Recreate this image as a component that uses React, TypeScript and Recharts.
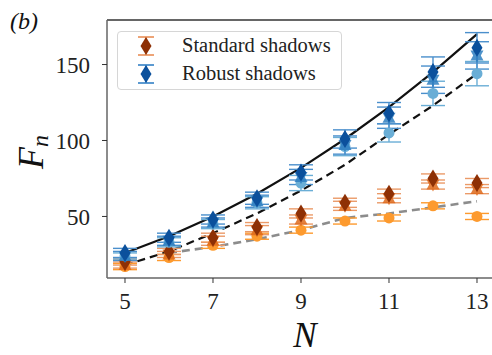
import React from "react";
import {
  ComposedChart,
  Line,
  Scatter,
  XAxis,
  YAxis,
  ErrorBar,
  ReferenceLine,
} from "recharts";

const nValues = [5, 6, 7, 8, 9, 10, 11, 12, 13];
const xTicks = [5, 7, 9, 11, 13];
const yTicks = [50, 100, 150];

const robustDiamond = [26, 36, 48, 62, 79, 101, 118, 145, 161];
const robustDiamondErr = [3, 3, 3, 4, 5, 6, 7, 10, 10];
const robustTriangle = [24, 34, 46, 60, 76, 97, 115, 140, 156];
const robustTriangleErr = [3, 3, 3, 4, 5, 6, 7, 9, 9];
const robustCircle = [24, 33, 45, 59, 72, 96, 105, 131, 144];
const robustCircleErr = [2, 3, 3, 4, 5, 6, 6, 8, 8];

const standardDiamond = [20, 27, 36, 43, 52, 59, 65, 75, 72];
const standardDiamondErr = [2, 2, 3, 3, 3, 3, 3, 3, 3];
const standardTriangle = [18, 25, 34, 41, 48, 57, 62, 71, 68];
const standardTriangleErr = [2, 2, 3, 3, 3, 3, 3, 3, 3];
const standardCircle = [17, 23, 31, 37, 41, 47, 49, 57, 50];
const standardCircleErr = [2, 2, 2, 2, 2, 2, 2, 2, 2];

const fitSolid = [26, 37, 50, 65, 82, 101, 122, 145, 170];
const fitDashed = [18, 27, 39, 52, 67, 84, 104, 123, 144];
const fitGray: (number | null)[] = [null, 26, 30, 35, 41, 49, 52, 56, 60];

const X_DOMAIN: [number, number] = [4.591, 13.523];
const Y_DOMAIN: [number, number] = [9.5, 179.3];

const lineData = nValues.map((n, i) => ({
  N: n,
  solid: fitSolid[i],
  dashed: fitDashed[i],
  gray: fitGray[i],
}));

const pts = (vals: number[], errs: number[]) =>
  nValues.map((n, i) => ({ N: n, v: vals[i], e: errs[i] }));

const C = {
  rDia: "#0b509c",
  rTri: "#2f7fc1",
  rCir: "#6aaed6",
  rErr: "#4a8fcc",
  sDia: "#8e3005",
  sTri: "#df6a1c",
  sCir: "#fd9a2e",
  sErr: "#eb9a68",
};

const Diamond = (fill: string) => (p: any) => {
  const { cx, cy } = p;
  if (cx == null || cy == null) return <g />;
  return (
    <polygon
      points={`${cx},${cy - 9} ${cx + 5.5},${cy} ${cx},${cy + 9} ${cx - 5.5},${cy}`}
      fill={fill}
    />
  );
};

const Triangle = (fill: string) => (p: any) => {
  const { cx, cy } = p;
  if (cx == null || cy == null) return <g />;
  return (
    <g opacity={0.85}>
      <polygon
        points={`${cx},${cy - 7} ${cx + 6.5},${cy + 5} ${cx - 6.5},${cy + 5}`}
        fill={fill}
      />
      <polygon
        points={`${cx},${cy + 7} ${cx + 6.5},${cy - 5} ${cx - 6.5},${cy - 5}`}
        fill={fill}
      />
    </g>
  );
};

const Circle = (fill: string) => (p: any) => {
  const { cx, cy } = p;
  if (cx == null || cy == null) return <g />;
  return <circle cx={cx} cy={cy} r={5.5} fill={fill} />;
};

const serif = "'Liberation Serif', 'DejaVu Serif', serif";

const YLabel = () => (
  <text
    x={43}
    y={152}
    transform="rotate(-90, 43, 152)"
    textAnchor="middle"
    fontFamily={serif}
    fill="#111"
  >
    <tspan fontSize={36} fontStyle="italic">F</tspan>
    <tspan fontSize={24} fontStyle="italic" dy={5}>n</tspan>
  </text>
);

const XLabel = () => (
  <text
    x={305}
    y={347}
    textAnchor="middle"
    fontFamily={serif}
    fontSize={35}
    fontStyle="italic"
    fill="#111"
  >
    N
  </text>
);

const LegendIcon = ({ dia, err }: { dia: string; err: string }) => (
  <svg width={20} height={22} style={{ display: "block" }}>
    <line x1={10} y1={2} x2={10} y2={20} stroke={err} strokeWidth={1.8} />
    <line x1={2} y1={2} x2={18} y2={2} stroke={err} strokeWidth={1.8} />
    <line x1={2} y1={20} x2={18} y2={20} stroke={err} strokeWidth={1.8} />
    <polygon points="10,2 15.5,11 10,20 4.5,11" fill={dia} />
  </svg>
);

export default function App() {
  const errProps = { direction: "y" as const, width: 12, strokeWidth: 1.4, isAnimationActive: false };
  return (
    <div
      style={{
        position: "absolute",
        left: 0,
        top: 0,
        width: 492,
        height: 355,
        overflow: "hidden",
        background: "#fff",
      }}
    >
      <ComposedChart
        width={500}
        height={355}
        data={lineData}
        margin={{ top: 20, right: 0, bottom: 0, left: 0 }}
      >
        <XAxis
          dataKey="N"
          type="number"
          domain={X_DOMAIN}
          ticks={xTicks}
          allowDataOverflow
          height={77}
          axisLine={{ stroke: "#666", strokeWidth: 1.5 }}
          tickLine={{ stroke: "#333", strokeWidth: 1 }}
          tickSize={5}
          tickMargin={10}
          tick={{ fontFamily: serif, fontSize: 23, fill: "#222" }}
          label={{ content: XLabel }}
        />
        <YAxis
          type="number"
          domain={Y_DOMAIN}
          ticks={yTicks}
          allowDataOverflow
          width={107}
          axisLine={{ stroke: "#666", strokeWidth: 1.5 }}
          tickLine={{ stroke: "#333", strokeWidth: 1 }}
          tickSize={5}
          tickMargin={12}
          tick={{ fontFamily: serif, fontSize: 23, fill: "#222" }}
          label={{ content: YLabel }}
        />
        <ReferenceLine y={Y_DOMAIN[1]} stroke="#666" strokeWidth={2} />
        <Line
          dataKey="solid"
          stroke="#111"
          strokeWidth={2.2}
          dot={false}
          isAnimationActive={false}
        />
        <Line
          dataKey="dashed"
          stroke="#111"
          strokeWidth={2.2}
          strokeDasharray="8 5"
          dot={false}
          isAnimationActive={false}
        />
        <Line
          dataKey="gray"
          stroke="#8c8c8c"
          strokeWidth={2.6}
          strokeDasharray="8 5"
          dot={false}
          connectNulls={false}
          isAnimationActive={false}
        />

        <Scatter data={pts(standardCircle, standardCircleErr)} dataKey="v" shape={Circle(C.sCir)} isAnimationActive={false}>
          <ErrorBar dataKey="e" stroke={C.sCir} {...errProps} />
        </Scatter>
        <Scatter data={pts(standardTriangle, standardTriangleErr)} dataKey="v" shape={Triangle(C.sTri)} isAnimationActive={false}>
          <ErrorBar dataKey="e" stroke={C.sErr} {...errProps} />
        </Scatter>
        <Scatter data={pts(standardDiamond, standardDiamondErr)} dataKey="v" shape={Diamond(C.sDia)} isAnimationActive={false}>
          <ErrorBar dataKey="e" stroke={C.sErr} {...errProps} />
        </Scatter>

        <Scatter data={pts(robustCircle, robustCircleErr)} dataKey="v" shape={Circle(C.rCir)} isAnimationActive={false}>
          <ErrorBar dataKey="e" stroke={C.rCir} {...errProps} />
        </Scatter>
        <Scatter data={pts(robustTriangle, robustTriangleErr)} dataKey="v" shape={Triangle(C.rTri)} isAnimationActive={false}>
          <ErrorBar dataKey="e" stroke={C.rErr} {...errProps} />
        </Scatter>
        <Scatter data={pts(robustDiamond, robustDiamondErr)} dataKey="v" shape={Diamond(C.rDia)} isAnimationActive={false}>
          <ErrorBar dataKey="e" stroke={C.rErr} {...errProps} />
        </Scatter>
      </ComposedChart>

      <div
        style={{
          position: "absolute",
          left: 10,
          top: 8,
          fontFamily: serif,
          fontStyle: "italic",
          fontSize: 24,
          color: "#111",
        }}
      >
        (b)
      </div>

      <div
        style={{
          position: "absolute",
          left: 117,
          top: 31,
          width: 225,
          height: 59,
          border: "1px solid #d6d6d6",
          borderRadius: 4,
          background: "rgba(255,255,255,0.85)",
          boxSizing: "border-box",
          fontFamily: serif,
          fontSize: 20.5,
          color: "#222",
        }}
      >
        <div style={{ position: "absolute", left: 18, top: 2, display: "flex", alignItems: "center" }}>
          <LegendIcon dia={C.sDia} err={C.sErr} />
          <span style={{ marginLeft: 26 }}>Standard shadows</span>
        </div>
        <div style={{ position: "absolute", left: 18, top: 30, display: "flex", alignItems: "center" }}>
          <LegendIcon dia={C.rDia} err={C.rErr} />
          <span style={{ marginLeft: 26 }}>Robust shadows</span>
        </div>
      </div>
    </div>
  );
}
